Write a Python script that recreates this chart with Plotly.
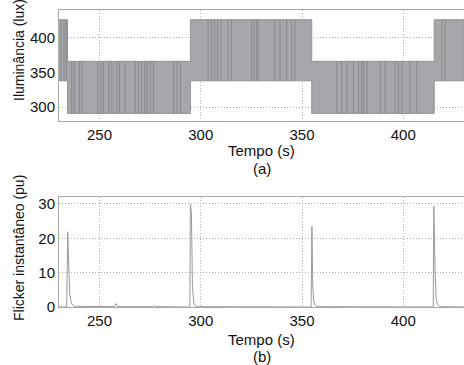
import plotly.graph_objects as go
from plotly.subplots import make_subplots

# ---- Data ----
# Illuminance: envelope of the flickering signal per segment
seg_edges = [230, 234.2, 294.9, 354.8, 415.3, 430]   # s
seg_upper = [426, 366, 426, 366, 426]                # lux
seg_lower = [338, 291, 338, 291, 338]                # lux

# Times of the darker vertical streaks visible inside the band (s)
streak_t = [231.0, 232.5, 233.6, 236.3, 237.6, 240.0, 241.3, 249.2, 250.8, 252.0, 254.5,
            256.1, 258.6, 259.9, 262.7, 267.7, 269.3, 270.9, 272.3, 273.4,
            275.1, 276.7, 286.6, 288.3, 290.0,
            303.6, 305.3, 306.9, 308.3, 309.9, 313.5, 315.2, 325.1, 326.4,
            327.6, 328.4, 336.6, 339.1, 342.4, 344.9, 346.5,
            367.2, 369.6, 372.1, 375.4, 377.9, 379.5, 380.4, 382.0, 388.6,
            391.1, 396.0, 397.6, 399.3, 403.4, 406.7, 419.1, 420.7]

# Instantaneous flicker (pu)
flick_t = [230, 233.8, 234.3, 234.8, 235.3, 236.2, 237.5, 257.5, 258.2, 259.0,
           276.5, 277.2, 278.0, 294.6, 294.9, 295.4, 295.9, 296.6, 297.6,
           354.5, 354.9, 355.3, 355.7, 356.4, 357.5,
           414.8, 415.1, 415.7, 416.2, 416.9, 418.0, 430]
flick_v = [0, 0, 21.9, 14.8, 3.5, 1.0, 0.2, 0.1, 1.0, 0.1,
           0.1, 0.4, 0.1, 0, 30.0, 27.2, 5.9, 1.0, 0.1,
           0, 23.5, 6.7, 2.0, 0.6, 0.1,
           0, 29.4, 11.3, 2.5, 0.8, 0.1, 0]

x_ticks = [250, 300, 350, 400]
y1_ticks = [300, 350, 400]
y2_ticks = [0, 10, 20, 30]

FONT = "Arial, Liberation Sans, sans-serif"
GRID = "#b0b0b0"
FRAME = "#a8a8a8"

# Build envelope polygon from step arrays
px, py = [], []
for i in range(len(seg_upper)):
    px += [seg_edges[i], seg_edges[i + 1]]
    py += [seg_upper[i], seg_upper[i]]
lx, ly = [], []
for i in range(len(seg_lower)):
    lx += [seg_edges[i], seg_edges[i + 1]]
    ly += [seg_lower[i], seg_lower[i]]
poly_x = px + lx[::-1]
poly_y = py + ly[::-1]

# Streak segments spanning the band at each streak time
sx, sy = [], []
for t in streak_t:
    for i in range(len(seg_upper)):
        if seg_edges[i] <= t < seg_edges[i + 1]:
            sx += [t, t, None]
            sy += [seg_lower[i], seg_upper[i], None]
            break

fig = make_subplots(rows=2, cols=1)

fig.add_trace(go.Scatter(x=poly_x, y=poly_y, fill="toself", mode="lines",
                         fillcolor="#a6a7ab", line=dict(color="#939498", width=1),
                         hoverinfo="skip", showlegend=False), row=1, col=1)
fig.add_trace(go.Scatter(x=sx, y=sy, mode="lines",
                         line=dict(color="#6c6d71", width=1), opacity=0.5,
                         hoverinfo="skip", showlegend=False), row=1, col=1)

fig.add_trace(go.Scatter(x=flick_t, y=flick_v, mode="lines",
                         line=dict(color="#9a9a9a", width=1),
                         showlegend=False), row=2, col=1)

axis_common = dict(showline=True, mirror=True, linecolor=FRAME, linewidth=1,
                   showgrid=True, gridcolor=GRID, griddash="1px,2px", gridwidth=1,
                   zeroline=False, ticks="",
                   tickfont=dict(family=FONT, size=15, color="#111"))

fig.update_xaxes(range=[230, 430], tickvals=x_ticks, **axis_common)
fig.update_yaxes(**axis_common)
fig.update_yaxes(range=[280, 440], tickvals=y1_ticks, row=1, col=1)
fig.update_yaxes(range=[0, 32], tickvals=y2_ticks, row=2, col=1)

fig.update_layout(
    width=464, height=365,
    margin=dict(l=59, r=0, t=10, b=58),
    paper_bgcolor="white", plot_bgcolor="white",
    font=dict(family=FONT, size=15, color="#111"),
    xaxis=dict(domain=[0, 1]), yaxis=dict(domain=[0.626, 1.0]),
    xaxis2=dict(domain=[0, 1]), yaxis2=dict(domain=[0.0, 0.370]),
)

def ann(text, x, y, size=15, angle=0):
    fig.add_annotation(text=text, xref="paper", yref="paper", x=x, y=y,
                       xanchor="center", yanchor="middle", showarrow=False,
                       textangle=angle, font=dict(family=FONT, size=size, color="#111"))

ann("Tempo (s)", 0.5, (307 - 151) / 297)
ann("(a)", 0.5, (307 - 168) / 297)
ann("Tempo (s)", 0.5, (307 - 339) / 297)
ann("(b)", 0.5, (307 - 357) / 297)
ann("Iluminância (lux)", (19 - 59) / 405, (307 - 50) / 297, size=14, angle=-90)
ann("Flicker instantâneo (pu)", (19 - 59) / 405, (307 - 248) / 297, size=14, angle=-90)

fig.write_html("out.html", config={"displayModeBar": False},
               post_script="document.body.style.margin='0px';document.body.style.overflow='hidden';")
